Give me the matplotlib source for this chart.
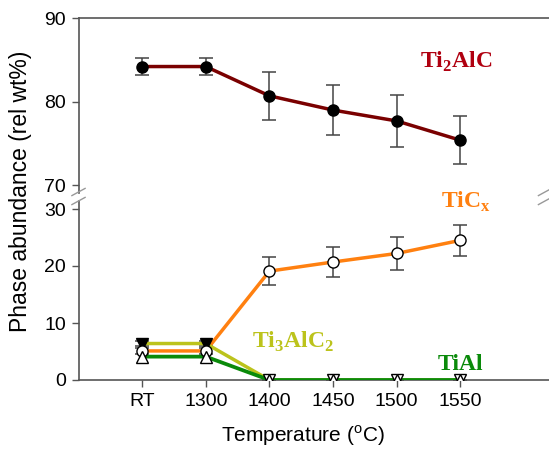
import numpy as np
import matplotlib
matplotlib.use('Agg')
import matplotlib.pyplot as plt

plt.rcParams['font.family'] = ['Liberation Sans', 'DejaVu Sans']

# data
temps = ['RT', '1300', '1400', '1450', '1500', '1550']
ti2alc = [84.2, 84.2, 80.7, 79.0, 77.7, 75.4]
ti2alc_err = [1.05, 1.05, 2.9, 3.0, 3.1, 2.85]
ticx = [5.1, 5.1, 19.1, 20.7, 22.2, 24.5]
ticx_err = [0.5, 0.5, 2.5, 2.6, 2.9, 2.7]
ti3alc2 = [6.4, 6.4, 0, 0, 0, 0]
ti3alc2_err = [0.4, 0.4, 0, 0, 0, 0]
tial = [4.1, 4.1, 0, 0, 0, 0]

x = np.arange(len(temps))
spine_c = '#555555'
err_c = '#444444'

fig = plt.figure(figsize=(5.49, 4.49), dpi=100)
left, right = 78.5/549, 549/549
ax1 = fig.add_axes([left, 1-193/449, right-left, (193-18)/449])
ax2 = fig.add_axes([left, 1-380/449, right-left, (380-201)/449])

# top panel
ax1.errorbar(x, ti2alc, yerr=ti2alc_err, color='#7a0000', lw=2.5, ecolor=err_c,
             elinewidth=1.1, capsize=5, capthick=1.1, marker='o', ms=8,
             mfc='black', mec='black', zorder=3)
ax1.set_ylim(90 - (193-18)/8.37, 90)
ax1.set_yticks([70, 80, 90])
ax1.text(4.93, 84.05, 'Ti$_\\mathregular{2}$AlC', color='#b00010', fontsize=17,
         fontweight='bold', family='Liberation Serif', ha='center', va='baseline')

# bottom panel
ax2.errorbar(x, ticx, yerr=ticx_err, color='#ff8010', lw=2.5, ecolor=err_c,
             elinewidth=1.1, capsize=5, capthick=1.1, zorder=2)
ax2.errorbar(x, ti3alc2, yerr=ti3alc2_err, color='#bcc31c', lw=2.5, ecolor=err_c,
             elinewidth=1.1, capsize=5, capthick=1.1, zorder=2)
ax2.plot(x, tial, color='#0a8a0a', lw=2.7, zorder=3)
ax2.plot(x, ti3alc2, ls='none', marker='v', ms=8,
         mfc='black', mec='black', zorder=4, markevery=[0, 1])
ax2.plot(x, ti3alc2, ls='none', marker='v', ms=8,
         mfc='white', mec='black', mew=1, zorder=4, markevery=[2, 3, 4, 5])
ax2.plot(x, ticx, ls='none', marker='o', ms=8, mfc='white', mec='black',
         mew=1, zorder=5)
ax2.plot(x, tial, ls='none', marker='^', ms=8, mfc='white', mec='black',
         mew=1, zorder=6)
ax2.set_ylim(0, 30 + 8/5.7)
ax2.set_yticks([0, 10, 20, 30])
ax2.set_xticks(x)
ax2.set_xticklabels(temps)

txt = dict(fontsize=17, fontweight='bold', family='Liberation Serif',
           ha='center', va='baseline', clip_on=False)
ax2.text(5.09, 30.2, 'TiC$_\\mathregular{x}$', color='#ff8010', **txt)
ax2.text(2.37, 5.6, 'Ti$_\\mathregular{3}$AlC$_\\mathregular{2}$', color='#bcc31c', **txt)
ax2.text(5.0, 1.75, 'TiAl', color='#0a8a0a', **txt)

for ax in (ax1, ax2):
    ax.set_xlim(-1, (548-142)/63.5)
    ax.spines['right'].set_visible(False)
    ax.tick_params(direction='out', length=5, width=1, color=spine_c,
                   labelsize=14, pad=4)
    for s in ax.spines.values():
        s.set_color(spine_c)
        s.set_linewidth(1.2)
    ax.patch.set_alpha(0)

ax1.spines['bottom'].set_visible(False)
ax1.tick_params(axis='x', bottom=False, labelbottom=False)
ax2.spines['top'].set_visible(False)

# break marks
bk = dict(color='#999999', lw=1, clip_on=False, transform=fig.transFigure)
for xp in (left, 545/549):
    for yp in (1-192/449, 1-201/449):
        fig.lines.append(plt.Line2D([xp-0.012, xp+0.012], [yp-0.008, yp+0.008], **bk))

fig.text(21/549, 1-191/449, 'Phase abundance (rel wt%)', rotation=90,
         ha='center', va='center', fontsize=16.5)
fig.text(303/549, 1-436/449, 'Temperature ($^\\mathregular{o}$C)', ha='center',
         va='center', fontsize=15)

fig.savefig('out.png', dpi=100)
